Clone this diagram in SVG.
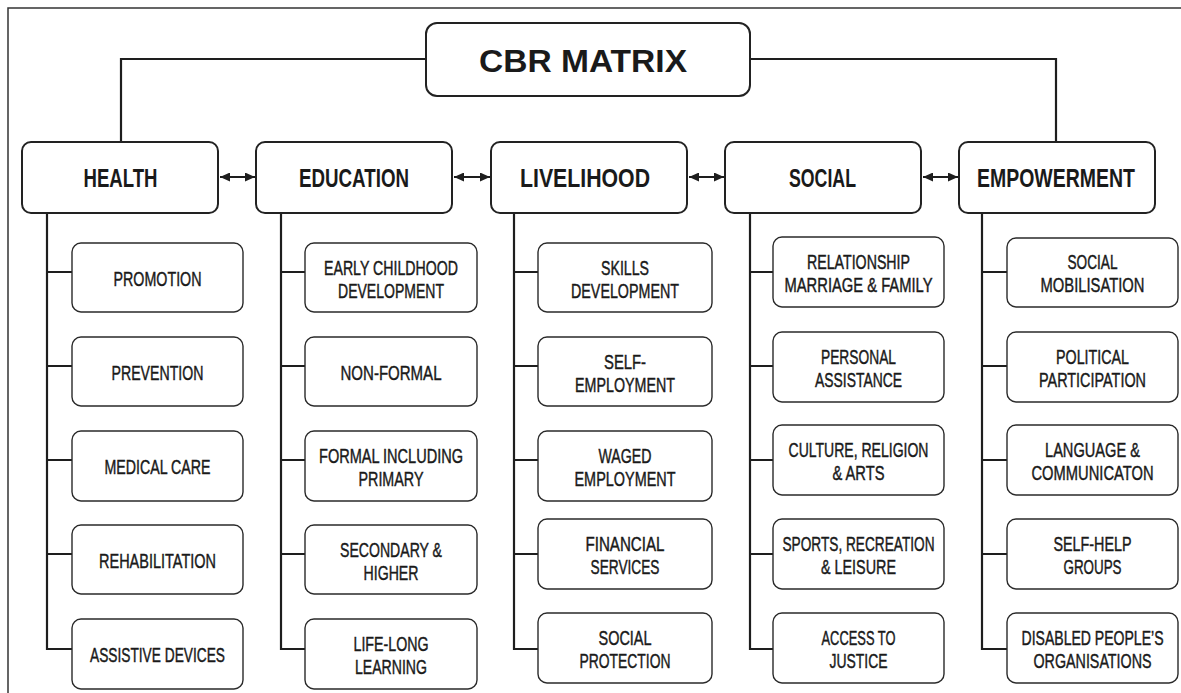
<svg xmlns="http://www.w3.org/2000/svg" width="1181" height="693" viewBox="0 0 1181 693" text-anchor="middle" font-family="'Liberation Sans Narrow','Liberation Sans',Arial,sans-serif">
<style>
.bg{fill:#fff}
.frame{fill:none;stroke:#333;stroke-width:1.5}
.top{fill:#fff;stroke:#222;stroke-width:2}
.box{fill:#fff;stroke:#2a2a2a;stroke-width:1.4}
.conn{fill:none;stroke:#1e1e1e;stroke-width:2.2}
.arr{fill:none;stroke:#1e1e1e;stroke-width:2}
text{font-family:"Liberation Sans Narrow","Liberation Sans",Arial,sans-serif;fill:#1a1a1a;text-anchor:middle}
.t0{font-size:31px;font-weight:bold}
.t1{font-size:26px;font-weight:bold}
.t2{font-size:21px;stroke:#1a1a1a;stroke-width:0.45}
</style>
<defs>
<marker id="ah" viewBox="0 0 10 9" refX="10" refY="4.5" markerWidth="5" markerHeight="4.5" orient="auto-start-reverse" markerUnits="strokeWidth">
<path d="M0,0 L10,4.5 L0,9 z" fill="#1e1e1e"/>
</marker>
</defs>
<rect class="bg" width="1181" height="693"/>
<path class="frame" d="M8,693 V8 H1181"/>

<g id="connectors">
<path class="conn" d="M426,59 H121 V142"/>
<path class="conn" d="M750,59 H1056 V142"/>
<path class="arr" d="M220,177 H255" marker-start="url(#ah)" marker-end="url(#ah)"/>
<path class="arr" d="M454,177 H490" marker-start="url(#ah)" marker-end="url(#ah)"/>
<path class="arr" d="M689,177 H724" marker-start="url(#ah)" marker-end="url(#ah)"/>
<path class="arr" d="M923,177 H958" marker-start="url(#ah)" marker-end="url(#ah)"/>
<path class="conn" d="M47,213 V649 H72 M47,272 H72 M47,366 H72 M47,460 H72 M47,554 H72"/>
<path class="conn" d="M281,213 V649 H305 M281,272 H305 M281,366 H305 M281,460 H305 M281,554 H305"/>
<path class="conn" d="M514,213 V649 H538 M514,272 H538 M514,366 H538 M514,460 H538 M514,554 H538"/>
<path class="conn" d="M750,213 V649 H773 M750,272 H773 M750,366 H773 M750,460 H773 M750,554 H773"/>
<path class="conn" d="M982,213 V649 H1007 M982,272 H1007 M982,366 H1007 M982,460 H1007 M982,554 H1007"/>
</g>

<g id="cbr-matrix">
<rect class="top" x="426" y="23" width="324" height="73" rx="11"/>
<text class="t0" x="583" y="72" textLength="208" lengthAdjust="spacingAndGlyphs" text-anchor="middle">CBR MATRIX</text>
</g>

<g id="health">
<rect class="top" x="22" y="142" width="196" height="71" rx="9"/>
<text class="t1" x="120.5" y="187" textLength="74" lengthAdjust="spacingAndGlyphs" text-anchor="middle">HEALTH</text>
</g>
<g id="education">
<rect class="top" x="256" y="142" width="196" height="71" rx="9"/>
<text class="t1" x="354" y="187" textLength="110" lengthAdjust="spacingAndGlyphs" text-anchor="middle">EDUCATION</text>
</g>
<g id="livelihood">
<rect class="top" x="491" y="142" width="196" height="71" rx="9"/>
<text class="t1" x="585" y="187" textLength="130" lengthAdjust="spacingAndGlyphs" text-anchor="middle">LIVELIHOOD</text>
</g>
<g id="social">
<rect class="top" x="725" y="142" width="196" height="71" rx="9"/>
<text class="t1" x="822.5" y="187" textLength="67" lengthAdjust="spacingAndGlyphs" text-anchor="middle">SOCIAL</text>
</g>
<g id="empowerment">
<rect class="top" x="959" y="142" width="196" height="71" rx="9"/>
<text class="t1" x="1056" y="187" textLength="158" lengthAdjust="spacingAndGlyphs" text-anchor="middle">EMPOWERMENT</text>
</g>

<!-- Health children -->
<g id="h-promotion"><rect class="box" x="72" y="243" width="171" height="69" rx="9"/>
<text class="t2" x="157.5" y="286" textLength="88" lengthAdjust="spacingAndGlyphs">PROMOTION</text></g>
<g id="h-prevention"><rect class="box" x="72" y="337" width="171" height="69" rx="9"/>
<text class="t2" x="157.5" y="380" textLength="92" lengthAdjust="spacingAndGlyphs">PREVENTION</text></g>
<g id="h-medical"><rect class="box" x="72" y="431" width="171" height="70" rx="9"/>
<text class="t2" x="157.5" y="474" textLength="106" lengthAdjust="spacingAndGlyphs">MEDICAL CARE</text></g>
<g id="h-rehab"><rect class="box" x="72" y="525" width="171" height="69" rx="9"/>
<text class="t2" x="157.5" y="568" textLength="117" lengthAdjust="spacingAndGlyphs">REHABILITATION</text></g>
<g id="h-assistive"><rect class="box" x="72" y="619" width="171" height="70" rx="9"/>
<text class="t2" x="157.5" y="662" textLength="135" lengthAdjust="spacingAndGlyphs">ASSISTIVE DEVICES</text></g>

<!-- Education children -->
<g id="e-early"><rect class="box" x="305" y="243" width="172" height="69" rx="9"/>
<text class="t2" x="391" y="275" textLength="134" lengthAdjust="spacingAndGlyphs">EARLY CHILDHOOD</text>
<text class="t2" x="391" y="298" textLength="106" lengthAdjust="spacingAndGlyphs">DEVELOPMENT</text></g>
<g id="e-nonformal"><rect class="box" x="305" y="337" width="172" height="69" rx="9"/>
<text class="t2" x="391" y="380" textLength="101" lengthAdjust="spacingAndGlyphs">NON-FORMAL</text></g>
<g id="e-formal"><rect class="box" x="305" y="431" width="172" height="70" rx="9"/>
<text class="t2" x="391" y="463" textLength="144" lengthAdjust="spacingAndGlyphs">FORMAL INCLUDING</text>
<text class="t2" x="391" y="486" textLength="65" lengthAdjust="spacingAndGlyphs">PRIMARY</text></g>
<g id="e-secondary"><rect class="box" x="305" y="525" width="172" height="69" rx="9"/>
<text class="t2" x="391" y="557" textLength="102" lengthAdjust="spacingAndGlyphs">SECONDARY &amp;</text>
<text class="t2" x="391" y="580" textLength="55" lengthAdjust="spacingAndGlyphs">HIGHER</text></g>
<g id="e-lifelong"><rect class="box" x="305" y="619" width="172" height="70" rx="9"/>
<text class="t2" x="391" y="651" textLength="75" lengthAdjust="spacingAndGlyphs">LIFE-LONG</text>
<text class="t2" x="391" y="674" textLength="72" lengthAdjust="spacingAndGlyphs">LEARNING</text></g>

<!-- Livelihood children -->
<g id="l-skills"><rect class="box" x="538" y="243" width="174" height="69" rx="9"/>
<text class="t2" x="625" y="275" textLength="48" lengthAdjust="spacingAndGlyphs">SKILLS</text>
<text class="t2" x="625" y="298" textLength="108" lengthAdjust="spacingAndGlyphs">DEVELOPMENT</text></g>
<g id="l-self"><rect class="box" x="538" y="337" width="174" height="69" rx="9"/>
<text class="t2" x="625" y="369" textLength="42" lengthAdjust="spacingAndGlyphs">SELF-</text>
<text class="t2" x="625" y="392" textLength="100" lengthAdjust="spacingAndGlyphs">EMPLOYMENT</text></g>
<g id="l-waged"><rect class="box" x="538" y="431" width="174" height="70" rx="9"/>
<text class="t2" x="625" y="463" textLength="53" lengthAdjust="spacingAndGlyphs">WAGED</text>
<text class="t2" x="625" y="486" textLength="101" lengthAdjust="spacingAndGlyphs">EMPLOYMENT</text></g>
<g id="l-financial"><rect class="box" x="538" y="519" width="174" height="70" rx="9"/>
<text class="t2" x="625" y="551" textLength="79" lengthAdjust="spacingAndGlyphs">FINANCIAL</text>
<text class="t2" x="625" y="574" textLength="69" lengthAdjust="spacingAndGlyphs">SERVICES</text></g>
<g id="l-protection"><rect class="box" x="538" y="613" width="174" height="70" rx="9"/>
<text class="t2" x="625" y="645" textLength="53" lengthAdjust="spacingAndGlyphs">SOCIAL</text>
<text class="t2" x="625" y="668" textLength="91" lengthAdjust="spacingAndGlyphs">PROTECTION</text></g>

<!-- Social children -->
<g id="s-relationship"><rect class="box" x="773" y="237" width="171" height="70" rx="9"/>
<text class="t2" x="858.5" y="269" textLength="103" lengthAdjust="spacingAndGlyphs">RELATIONSHIP</text>
<text class="t2" x="858.5" y="292" textLength="148" lengthAdjust="spacingAndGlyphs">MARRIAGE &amp; FAMILY</text></g>
<g id="s-personal"><rect class="box" x="773" y="332" width="171" height="70" rx="9"/>
<text class="t2" x="858.5" y="364" textLength="75" lengthAdjust="spacingAndGlyphs">PERSONAL</text>
<text class="t2" x="858.5" y="387" textLength="87" lengthAdjust="spacingAndGlyphs">ASSISTANCE</text></g>
<g id="s-culture"><rect class="box" x="773" y="425" width="171" height="70" rx="9"/>
<text class="t2" x="858.5" y="457" textLength="140" lengthAdjust="spacingAndGlyphs">CULTURE, RELIGION</text>
<text class="t2" x="858.5" y="480" textLength="52" lengthAdjust="spacingAndGlyphs">&amp; ARTS</text></g>
<g id="s-sports"><rect class="box" x="773" y="519" width="171" height="70" rx="9"/>
<text class="t2" x="858.5" y="551" textLength="152" lengthAdjust="spacingAndGlyphs">SPORTS, RECREATION</text>
<text class="t2" x="858.5" y="574" textLength="75" lengthAdjust="spacingAndGlyphs">&amp; LEISURE</text></g>
<g id="s-justice"><rect class="box" x="773" y="613" width="171" height="70" rx="9"/>
<text class="t2" x="858.5" y="645" textLength="74" lengthAdjust="spacingAndGlyphs">ACCESS TO</text>
<text class="t2" x="858.5" y="668" textLength="58" lengthAdjust="spacingAndGlyphs">JUSTICE</text></g>

<!-- Empowerment children -->
<g id="p-mobilisation"><rect class="box" x="1007" y="238" width="171" height="69" rx="9"/>
<text class="t2" x="1092.5" y="269" textLength="50" lengthAdjust="spacingAndGlyphs" text-anchor="middle">SOCIAL</text>
<text class="t2" x="1092.5" y="292" textLength="104" lengthAdjust="spacingAndGlyphs" text-anchor="middle">MOBILISATION</text></g>
<g id="p-political"><rect class="box" x="1007" y="332" width="171" height="70" rx="9"/>
<text class="t2" x="1092.5" y="364" textLength="73" lengthAdjust="spacingAndGlyphs" text-anchor="middle">POLITICAL</text>
<text class="t2" x="1092.5" y="387" textLength="107" lengthAdjust="spacingAndGlyphs" text-anchor="middle">PARTICIPATION</text></g>
<g id="p-language"><rect class="box" x="1007" y="425" width="171" height="70" rx="9"/>
<text class="t2" x="1092.5" y="457" textLength="95" lengthAdjust="spacingAndGlyphs" text-anchor="middle">LANGUAGE &amp;</text>
<text class="t2" x="1092.5" y="480" textLength="122" lengthAdjust="spacingAndGlyphs" text-anchor="middle">COMMUNICATON</text></g>
<g id="p-selfhelp"><rect class="box" x="1007" y="519" width="171" height="70" rx="9"/>
<text class="t2" x="1092.5" y="551" textLength="78" lengthAdjust="spacingAndGlyphs" text-anchor="middle">SELF-HELP</text>
<text class="t2" x="1092.5" y="574" textLength="58" lengthAdjust="spacingAndGlyphs" text-anchor="middle">GROUPS</text></g>
<g id="p-dpo"><rect class="box" x="1007" y="613" width="171" height="70" rx="9"/>
<text class="t2" x="1092.5" y="645" textLength="142" lengthAdjust="spacingAndGlyphs" text-anchor="middle">DISABLED PEOPLE’S</text>
<text class="t2" x="1092.5" y="668" textLength="118" lengthAdjust="spacingAndGlyphs" text-anchor="middle">ORGANISATIONS</text></g>
</svg>
